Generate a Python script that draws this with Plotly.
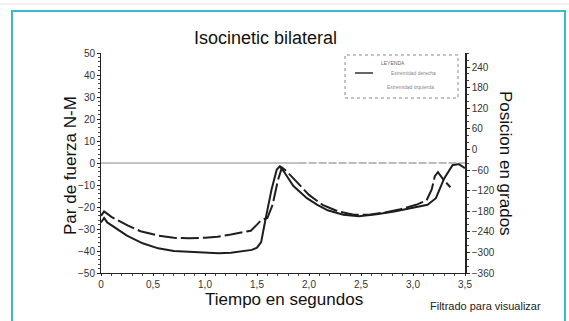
import plotly.graph_objects as go

# ---- data ----
time_solid = [0, 0.03, 0.06, 0.15, 0.25, 0.4, 0.55, 0.7, 0.87, 1.0, 1.13, 1.25, 1.35, 1.45,
              1.5, 1.54, 1.58, 1.64, 1.69, 1.72, 1.76, 1.85, 1.98, 2.08, 2.18, 2.33, 2.48,
              2.65, 2.82, 2.97, 3.07, 3.14, 3.22, 3.3, 3.38, 3.44, 3.5]
torque_solid = [-27, -25, -27, -30, -33, -36.5, -38.8, -40, -40.5, -40.7, -41, -40.8, -40.3,
                -39.5, -38.5, -36, -26, -12, -3, -1.5, -4, -10.5, -16, -19, -21.5, -23.5,
                -24.2, -23.3, -22, -20.5, -19.8, -19, -16, -7, -1, -0.5, -2.3]

time_dashed = [0, 0.03, 0.1, 0.2, 0.26, 0.38, 0.55, 0.7, 0.85, 1.0, 1.12, 1.25, 1.35, 1.44,
               1.5, 1.54, 1.6, 1.65, 1.7, 1.74, 1.78, 1.88, 2.0, 2.13, 2.28, 2.43, 2.58, 2.73,
               2.88, 3.03, 3.13, 3.18, 3.21, 3.24, 3.3, 3.36]
torque_dashed = [-24, -22, -24.5, -27, -28.5, -31, -33, -34, -34.2, -34, -33.5, -32.5, -31.5,
                 -30.8, -28, -26, -25, -19, -8, -2, -3.5, -8.5, -14.5, -19, -22, -23.5, -23.5,
                 -22.5, -21, -19, -17, -12, -6, -4.2, -8, -11]

x_tickvals = [0, 0.5, 1.0, 1.5, 2.0, 2.5, 3.0, 3.5]
x_ticktext = ["0", "0,5", "1,0", "1,5", "2,0", "2,5", "3,0", "3,5"]
y_tickvals = [50, 40, 30, 20, 10, 0, -10, -20, -30, -40, -50]
y2_tickvals = [240, 180, 120, 60, 0, -60, -120, -180, -240, -300, -360]
legend_texts = ["LEYENDA", "Extremidad derecha", "Extremidad izquierda"]

# ---- layout geometry (pixels) ----
W, H = 569, 321
L, R, T, B = 101, 104, 53, 48
PW, PH = W - L - R, H - T - B


def px(x):
    return (x - L) / PW


def py(y):
    return (H - B - y) / PH


TICKFONT = dict(family="Liberation Sans Narrow, Liberation Sans, Arial", size=10, color="#333")
TITLEFONT = dict(family="Liberation Sans, Arial", size=17, color="#111")

fig = go.Figure()
fig.add_trace(go.Scatter(x=time_solid, y=torque_solid, mode="lines",
                         line=dict(color="#1e1e1e", width=2), showlegend=False))
fig.add_trace(go.Scatter(x=time_dashed, y=torque_dashed, mode="lines",
                         line=dict(color="#1e1e1e", width=2, dash="18px,4px"), showlegend=False))
# invisible trace to activate the secondary axis
fig.add_trace(go.Scatter(x=[0], y=[0], yaxis="y2", mode="markers",
                         marker=dict(opacity=0), showlegend=False, hoverinfo="skip"))

shapes = []
# zero line
shapes.append(dict(type="line", xref="x", yref="y", x0=0, x1=1.9, y0=0, y1=0,
                   line=dict(color="#888", width=1)))
shapes.append(dict(type="line", xref="x", yref="y", x0=1.9, x1=3.5, y0=0, y1=0,
                   line=dict(color="#777", width=1, dash="8px,2px")))
# legend box (dashed)
shapes.append(dict(type="rect", xref="paper", yref="paper",
                   x0=px(345), x1=px(458), y0=py(98), y1=py(55),
                   line=dict(color="#888", width=1, dash="3px,3px")))
shapes.append(dict(type="line", xref="paper", yref="paper",
                   x0=px(355), x1=px(373), y0=py(73), y1=py(73),
                   line=dict(color="#333", width=1.5)))
# outer frame
shapes.append(dict(type="rect", xref="paper", yref="paper",
                   x0=px(12), x1=px(565), y0=py(335), y1=py(11),
                   line=dict(color="#3bb8c9", width=2)))
shapes.append(dict(type="line", xref="paper", yref="paper",
                   x0=px(0), x1=px(569), y0=py(4), y1=py(4),
                   line=dict(color="#e4e4e4", width=1)))

annotations = [
    dict(text="Isocinetic bilateral", x=px(265), y=py(38), xref="paper", yref="paper",
         showarrow=False, font=dict(family="Liberation Sans, Arial", size=18, color="#111"),
         xanchor="center", yanchor="middle"),
    dict(text="Par de fuerza N-M", x=px(70), y=py(166), xref="paper", yref="paper",
         showarrow=False, textangle=-90, font=TITLEFONT, xanchor="center", yanchor="middle"),
    dict(text="Posicion en grados", x=px(506), y=py(163), xref="paper", yref="paper",
         showarrow=False, textangle=90, font=TITLEFONT, xanchor="center", yanchor="middle"),
    dict(text="Tiempo en segundos", x=px(284), y=py(299), xref="paper", yref="paper",
         showarrow=False, font=TITLEFONT, xanchor="center", yanchor="middle"),
    dict(text="Filtrado para visualizar", x=px(485), y=py(306), xref="paper", yref="paper",
         showarrow=False, font=dict(family="Liberation Sans, Arial", size=11, color="#222"),
         xanchor="center", yanchor="middle"),
    dict(text=legend_texts[0], x=px(393), y=py(63), xref="paper", yref="paper",
         showarrow=False, font=dict(family="Liberation Sans", size=5, color="#666"),
         xanchor="center", yanchor="middle"),
    dict(text=legend_texts[1], x=px(413), y=py(73), xref="paper", yref="paper",
         showarrow=False, font=dict(family="Liberation Sans", size=5, color="#888"),
         xanchor="center", yanchor="middle"),
    dict(text=legend_texts[2], x=px(410), y=py(87), xref="paper", yref="paper",
         showarrow=False, font=dict(family="Liberation Sans", size=5, color="#888"),
         xanchor="center", yanchor="middle"),
]

fig.update_layout(
    width=W, height=H,
    margin=dict(l=L, r=R, t=T, b=B, pad=0),
    paper_bgcolor="white", plot_bgcolor="white",
    showlegend=False,
    shapes=shapes,
    annotations=annotations,
    xaxis=dict(range=[0, 3.5], tickvals=x_tickvals, ticktext=x_ticktext,
               showgrid=False, zeroline=False, showline=True, linecolor="#222", linewidth=1,
               ticks="outside", ticklen=2, tickcolor="#222", tickfont=TICKFONT,
               minor=dict(dtick=0.1, ticks="outside", ticklen=2, tickcolor="#444")),
    yaxis=dict(range=[-50, 50], tickvals=y_tickvals,
               showgrid=False, zeroline=False, showline=True, linecolor="#222", linewidth=1,
               ticks="outside", ticklen=3, tickcolor="#222", tickfont=TICKFONT,
               minor=dict(dtick=2, ticks="outside", ticklen=2, tickcolor="#444")),
    yaxis2=dict(range=[-360, 281], tickvals=y2_tickvals, overlaying="y", side="right",
                showgrid=False, zeroline=False, showline=True, linecolor="#222", linewidth=1.5,
                ticks="outside", ticklen=3, tickcolor="#222", tickfont=TICKFONT,
                minor=dict(dtick=20, ticks="outside", ticklen=2, tickcolor="#444")),
)

fig.write_html("out.html", config={"displayModeBar": False},
               post_script="document.body.style.margin='0';document.body.style.overflow='hidden';")
